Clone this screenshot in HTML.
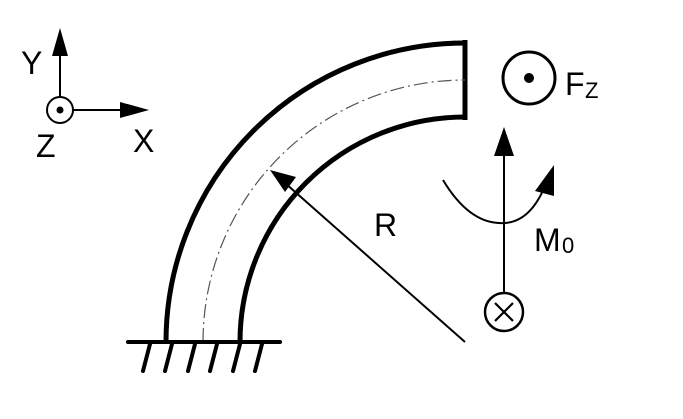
<!DOCTYPE html>
<html><head><meta charset="utf-8"><style>
html,body{margin:0;padding:0;background:#fff;}
svg{display:block}
text{font-family:"Liberation Sans",sans-serif;fill:#000}
</style></head><body>
<svg width="683" height="419" viewBox="0 0 683 419" xmlns="http://www.w3.org/2000/svg">
<path d="M166 342 A299 299 0 0 1 465 43" fill="none" stroke="#000" stroke-width="5"/>
<path d="M240 342 A225 225 0 0 1 465 117" fill="none" stroke="#000" stroke-width="5"/>
<line x1="465" y1="40" x2="465" y2="120" stroke="#000" stroke-width="5"/>
<path d="M203 342 A262 262 0 0 1 465 80" fill="none" stroke="#555" stroke-width="1.2" stroke-dasharray="14,4,2,4"/>
<line x1="128" y1="342" x2="280" y2="342" stroke="#000" stroke-width="4" stroke-linecap="round"/>
<g stroke="#000" stroke-width="4" stroke-linecap="round">
<line x1="150" y1="344" x2="143" y2="371"/>
<line x1="172" y1="344" x2="165" y2="371"/>
<line x1="195" y1="344" x2="188" y2="371"/>
<line x1="217" y1="344" x2="210" y2="371"/>
<line x1="240" y1="344" x2="233" y2="371"/>
<line x1="262" y1="344" x2="255" y2="371"/>
</g>
<line x1="465" y1="342" x2="285" y2="183" stroke="#000" stroke-width="2"/>
<polygon points="270,170 296,177 285,192" fill="#000"/>
<text x="374" y="236" font-size="32">R</text>
<circle cx="529" cy="78" r="26" fill="none" stroke="#000" stroke-width="3"/>
<circle cx="529" cy="78" r="5" fill="#000"/>
<text x="565" y="95" font-size="32">F</text>
<text x="585" y="98" font-size="22">Z</text>
<line x1="504" y1="292" x2="504" y2="150" stroke="#000" stroke-width="2"/>
<polygon points="504,127 494,156 514,156" fill="#000"/>
<circle cx="504" cy="312" r="19" fill="none" stroke="#000" stroke-width="2.5"/>
<path d="M495 303 L513 321 M513 303 L495 321" stroke="#000" stroke-width="2.2"/>
<path d="M443 180 Q470 225 504 223 Q530 222 545 186" fill="none" stroke="#000" stroke-width="2"/>
<polygon points="554,165 535,191 554,196" fill="#000"/>
<text x="534" y="251" font-size="32">M</text>
<text x="562" y="253" font-size="22">0</text>
<line x1="60" y1="110" x2="60" y2="52" stroke="#000" stroke-width="2"/>
<polygon points="60,28 52,56 68,56" fill="#000"/>
<line x1="60" y1="110" x2="124" y2="110" stroke="#000" stroke-width="2"/>
<polygon points="149,110 120,102 120,118" fill="#000"/>
<circle cx="60" cy="110" r="13" fill="#fff" stroke="#000" stroke-width="2"/>
<circle cx="60" cy="110" r="3.5" fill="#000"/>
<text x="21" y="74" font-size="32">Y</text>
<text x="36" y="157" font-size="32">Z</text>
<text x="133" y="152" font-size="32">X</text>
</svg>
</body></html>
